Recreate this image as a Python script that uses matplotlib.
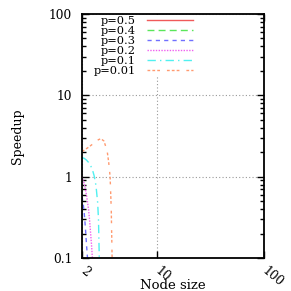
import matplotlib
matplotlib.use('Agg')
import matplotlib.pyplot as plt
from matplotlib.ticker import FixedLocator, NullLocator, NullFormatter

plt.rcParams['font.family'] = ['DejaVu Serif']

# data
labels = ['p=0.5', 'p=0.4', 'p=0.3', 'p=0.2', 'p=0.1', 'p=0.01']
x_p05 = [2.0, 2.05]
y_p05 = [0.06, 0.03]
x_p04 = [2.0, 2.05]
y_p04 = [0.09, 0.05]
x_p03 = [2.0, 2.05, 2.1, 2.15, 2.2, 2.25]
y_p03 = [0.57, 0.47, 0.35, 0.24, 0.15, 0.1]
x_p02 = [2.0, 2.1, 2.2, 2.3, 2.35, 2.4, 2.45, 2.5]
y_p02 = [1.0, 0.82, 0.6, 0.4, 0.3, 0.21, 0.15, 0.1]
x_p01 = [2.0, 2.1, 2.2, 2.3, 2.4, 2.5, 2.6, 2.7, 2.8, 2.85, 2.9]
y_p01 = [1.71, 1.68, 1.6, 1.5, 1.38, 1.22, 1.02, 0.78, 0.48, 0.3, 0.1]
x_p001 = [2.0, 2.3, 2.6, 2.85, 3.0, 3.2, 3.43, 3.55, 3.66, 3.75, 3.82]
y_p001 = [2.03, 2.3, 2.6, 2.85, 2.93, 2.75, 2.1, 1.5, 1.0, 0.4, 0.1]

xs = [x_p05, x_p04, x_p03, x_p02, x_p01, x_p001]
ys = [y_p05, y_p04, y_p03, y_p02, y_p01, y_p001]
colors = ['#f05a5a', '#5ae65a', '#7070ff', '#f060f0', '#50f0f0', '#ff9a70']
styles = ['-', (0, (5, 3)), (0, (3, 3)), (0, (1, 1)), (0, (6, 3, 1, 3)),
          (0, (2, 1.5, 2, 1.5, 2, 5))]

x_ticks = [2, 10, 100]
x_ticklabels = ['2', '10', '100']
y_ticks = [0.1, 1, 10, 100]
y_ticklabels = ['0.1', '1', '10', '100']

fig = plt.figure(figsize=(2.91, 2.91), dpi=100)
ax = fig.add_axes([82/291, 33/291, 182/291, 244/291])

for x, y, c, s, l in zip(xs, ys, colors, styles, labels):
    ax.plot(x, y, color=c, linestyle=s, linewidth=1.0, label=l)

ax.set_xscale('log')
ax.set_yscale('log')
ax.set_xlim(2, 100)
ax.set_ylim(0.1, 100)

ax.xaxis.set_major_locator(FixedLocator(x_ticks))
ax.xaxis.set_minor_locator(NullLocator())
ax.set_xticklabels(x_ticklabels, rotation=-40, ha='left', va='center', rotation_mode='anchor')
ax.yaxis.set_major_locator(FixedLocator(y_ticks))
ax.set_yticklabels(y_ticklabels)
ax.yaxis.set_minor_locator(FixedLocator([m * 10.0**e for e in (-1, 0, 1) for m in range(2, 10)]))
ax.yaxis.set_minor_formatter(NullFormatter())

ax.tick_params(which='both', direction='in', top=True, right=True, labelsize=8.8, width=1.0)
ax.tick_params(which='major', length=5)
ax.tick_params(which='minor', length=3)
ax.tick_params(axis='y', pad=7)
ax.tick_params(axis='x', pad=8)

for sp in ax.spines.values():
    sp.set_linewidth(1.3)

ax.grid(True, which='major', linestyle=(0, (1, 2)), color='#999999', linewidth=0.8)

ax.set_xlabel('Node size', fontsize=9.5)
ax.xaxis.set_label_coords(0.5, (258 - 289) / 244)
ax.xaxis.label.set_va('baseline')
ax.set_ylabel('Speedup', fontsize=9)
ax.yaxis.set_label_coords((17.5 - 82) / 182, 0.5)
ax.yaxis.label.set_va('center')

leg = ax.legend(loc='upper right', bbox_to_anchor=((194 - 82) / 182, (258 - 15) / 244),
                markerfirst=False, frameon=True, fontsize=8.2, handlelength=4.0,
                handletextpad=1.0, labelspacing=0.0, borderpad=0.1, borderaxespad=0)
leg.get_frame().set_edgecolor('none')
leg.get_frame().set_facecolor('white')
leg.get_frame().set_alpha(1)

fig.savefig('out.png', dpi=100)
